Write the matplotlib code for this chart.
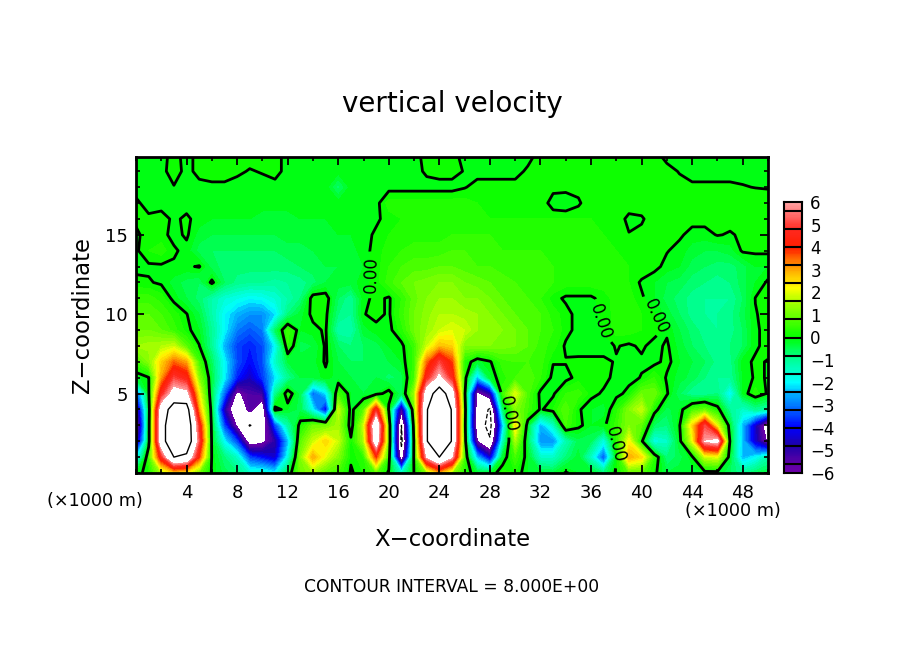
import numpy as np
import matplotlib
matplotlib.use("Agg")
import matplotlib.pyplot as plt
from matplotlib.colors import LinearSegmentedColormap
from matplotlib.ticker import MultipleLocator

# vertical velocity, one list per height (km), x = 0..50 km
z20 = [-.1, -.1, -.1, .1, -.1, .1, .1, .1, .1, .1,
       .1, .1, -.1, -.1, -.1, -.1, -.1, -.1, -.1, -.1,
       -.1, -.1, -.1, .1, .1, .1, -.1, -.1, -.1, -.1,
       -.1, -.1, .1, .1, .1, .1, .1, .1, .1, .1,
       .1, .1, -.1, -.1, -.1, -.1, -.1, -.1, -.1, -.1, -.1]
z19 = [-.1, -.1, -.1, .15, -.1, .1, .2, .2, .05, -.02,
       .02, .1, -.1, -.1, -.1, -.1, -.1, -.1, -.1, -.1,
       -.1, -.1, -.1, .05, .1, .1, -.02, -.1, -.1, -.1,
       -.1, .05, .1, .1, .1, .1, .1, .1, .1, .1,
       .1, .1, .1, -.02, -.1, -.1, -.1, -.1, -.1, -.05, -.1]
z18 = [-.1, -.1, -.1, -.02, -.1, -.1, -.1, -.1, -.1, -.1,
       -.1, -.1, -.1, -.1, -.1, -.1, -.7, -.1, -.1, -.1,
       -.1, -.1, -.1, -.1, -.1, -.1, -.02, .1, .1, .1,
       .1, .1, .1, .1, .1, .1, .1, .1, .1, .1,
       .1, .1, .1, .1, .05, .05, .05, .05, .02, -.01, -.03]
z17 = [.05, -.1, -.1, -.03, -.1, -.1, -.1, -.1, -.1, -.1,
       -.1, -.1, -.1, -.1, -.1, -.1, -.1, -.1, -.1, -.1,
       .3, .3, .3, .3, .3, .3, .3, .2, .2, .2,
       .2, .2, .2, -.15, -.2, -.05, .2, .2, .2, .2,
       .2, .2, .2, .2, .2, .2, .2, .2, .2, .2, .2]
z16 = [.05, .05, .1, -.05, .05, -.1, -.2, -.2, -.2, -.2,
       -.3, -.3, -.3, -.2, -.2, -.2, -.1, -.1, -.1, -.05,
       .1, .2, .2, .2, .3, .3, .3, .3, .2, .2,
       .2, .2, .2, .2, .2, .2, .2, .2, .2, -.1,
       -.05, .2, .2, .2, .1, .1, .1, .1, .1, .1, .1]
z15 = [-.05, .1, .1, -.1, .05, -.3, -.4, -.4, -.4, -.4,
       -.4, -.4, -.3, -.3, -.3, -.2, -.2, -.2, -.1, .05,
       .2, .3, .3, .3, .3, .4, .4, .4, .4, .3,
       .3, .3, .3, .3, .3, .3, .3, .2, .2, .02,
       .1, .1, .1, .05, -.1, -.1, .02, -.03, .05, .1, .1]
z14 = [-.05, .2, .3, .05, -.1, -.5, -.6, -.6, -.6, -.6,
       -.6, -.6, -.5, -.5, -.4, -.3, -.3, -.3, -.1, .1,
       .3, .4, .5, .5, .5, .6, .6, .5, .5, .4,
       .4, .4, .4, .3, .3, .3, .3, .3, .2, .2,
       .2, .1, .02, -.1, -.3, -.4, -.4, -.3, .05, .05, .05]
z13 = [-.05, -.05, -.05, -.05, -.05, .03, -.5, -.7, -.7, -.7,
       -.7, -.7, -.7, -.6, -.5, -.4, -.4, -.4, -.2, .1,
       .4, .6, .7, .7, .8, .8, .7, .6, .6, .5,
       .5, .5, .5, .4, .4, .4, .3, .3, .3, .2,
       .2, .1, -.1, -.2, -.5, -.6, -.7, -.7, -.5, -.2, -.2]
z12 = [.05, .03, -.05, -.3, -.5, -.6, .1, -.6, -.9, -1,
       -1, -1.1, -1, -.9, -.7, -.4, -.3, -.3, -.1, .1,
       .5, .8, 1, 1.1, 1.2, 1.2, 1, .9, .8, .7,
       .6, .6, .5, .4, .3, .3, .3, .3, .3, .2,
       -.05, -.2, -.4, -.5, -.7, -.8, -.9, -.8, -.5, -.2, .05]
z11 = [.5, .5, .3, -.1, -.4, -.7, -1.2, -1.6, -1.8, -2,
       -1.9, -1.6, -1.2, -.8, .2, .2, -.6, -1, -.1, .1,
       -.05, .4, .9, 1.2, 1.4, 1.4, 1.2, 1.2, 1, .8,
       .7, .6, .4, .1, -.05, -.05, -.05, .1, .3, .3,
       .05, -.2, -.5, -.7, -.9, -1, -1, -1, -.6, .01, .1]
z10 = [.8, .8, .6, .3, .02, -.4, -1.2, -2, -2.5, -2.8,
       -2.8, -2.2, -.8, -.3, .1, .1, -.8, -1, -.02, .1,
       -.05, .5, 1, 1.3, 1.6, 1.6, 1.5, 1.4, 1.2, 1,
       .8, .7, .6, .3, .1, -.1, -.1, .05, .3, .3,
       .2, .02, -.3, -.6, -.9, -1, -1, -.9, -.5, -.02, .1]
z09 = [1, 1, .8, .5, .1, -.2, -1, -2, -3, -3.3,
       -3, -.6, .5, -.2, -.1, .05, -1.2, -1.2, -.3, -.1,
       -.1, .3, 1, 1.4, 1.8, 2, 1.8, 1.4, 1.3, 1.2,
       1, .8, .6, .4, .1, -.1, -.1, .02, .3, .3,
       .2, .1, -.05, -.4, -.7, -.9, -1, -.9, -.6, -.05, .1]
z08 = [1.4, 1.5, 1.6, 1.8, .8, .02, -1, -2.5, -3.5, -3.8,
       -3.4, -2, .4, -.5, -.4, .05, -.6, -.8, -.6, -.5,
       -.2, -.1, .5, 1.8, 2.8, 2.6, 1.2, 1.2, 1.2, 1.1,
       1, .8, .5, .3, -.05, -.1, -.1, -.1, .02, -.05,
       .05, -.1, .05, -.3, -.6, -.8, -.9, -.8, -.6, -.05, .1]
z07 = [.6, 1.2, 2.6, 3.5, 3, .6, -.6, -2, -3.4, -4,
       -3.4, -1.5, -.4, -.3, -.3, .05, -.4, -.6, -.6, -.5,
       -.4, -.2, .5, 3.4, 5, 3.8, .3, -.3, -.05, .5,
       .6, .6, .5, .02, .02, .05, .05, .05, -.02, -.02,
       -.05, -.1, .1, -.2, -.4, -.6, -.9, -.9, -.1, .05, -.02]
z06 = [-.3, -.03, 3, 5, 4.4, 1.2, -.4, -2, -3.8, -4.6,
       -3.6, -2.2, -1, -.4, -.4, -.1, -.3, -.4, -.4, -.4,
       -.7, -.5, .6, 4.5, 6.3, 4.5, .3, -2.5, -.3, .3,
       .6, .8, .4, -.1, -.1, .1, .1, .1, -.1, -.1,
       .02, .4, -.05, -.3, -.5, -.8, -1, -1, -.2, .05, -.02]
z05 = [-3.5, -.1, 4.5, 6.6, 6.3, 2.2, -.5, -3.2, -6.3, -5.4,
       -5.2, -1, .3, -.5, -3.2, -2.2, .6, -.2, -.4, -.2,
       .2, -.6, 1.4, 6.8, 9.2, 6.8, .2, -6.4, -5, .5,
       2, .7, -.1, -.05, .4, .5, .1, -.05, -.1, .1,
       1, 1, .05, -.6, -1, -1, -.8, -2, -.2, .3, -.05]
z04 = [-5.6, -.4, 6.8, 9, 9, 3, -.3, -4.8, -7.5, -5.6,
       -7, .2, -.2, -.5, -2, -4.2, 1.8, -.2, .8, 4.5,
       -.1, -5.5, 1, 7.8, 11, 7.8, .5, -6.8, -8.2, -.8,
       1.2, .6, -.05, .2, .8, .05, -.2, -.3, .3, 1.2,
       1.8, .2, -.5, -.2, .6, .9, .2, -1, -1.5, -1, -1.2]
z03 = [-6.8, -.3, 7, 10, 9.8, 4.5, -.2, -3.5, -6.2, -8.1,
       -7, -3.5, -1.2, .2, 1, 1, 1.5, -.3, 1.8, 7.5,
       .8, -8, .5, 7.8, 11.5, 7.8, .4, -7, -8.6, -2.5,
       2.5, -.3, -2.5, -1.5, .6, .1, -.2, -.1, .5, 1.2,
       .8, -.6, -.8, -.05, 2.5, 5, 2, -.3, -2.5, -4.5, -7]
z02 = [-5.5, -.3, 7, 10, 9.8, 5, -.1, -2, -3.5, -6.8,
       -6.3, -5, -2.5, .8, 1.8, 2.6, 1.8, .1, 1.5, 7,
       .9, -8.5, .2, 7.8, 11.5, 7.8, .5, -6, -7.8, -1.5,
       1.5, -.5, -2.8, -2.8, -1.3, -.5, -.6, -1.8, .3, 2.2,
       .1, -1.8, -1.5, -.2, 2, 6, 6.5, -.1, -2.5, -4.5, -6.2]
z01 = [-2.2, .5, 4.5, 8, 7.5, 3.8, -.05, -.8, -1.5, -3.5,
       -4, -4.5, -1.8, 1.2, 3, 2, 1.2, .05, .4, 3.8,
       .4, -7, .2, 6, 8, 6, .6, -2.5, -4.5, -.3,
       .6, -.2, -1.5, -1.5, -.8, -.3, -1.5, -3.4, -.05, 3,
       2.5, .4, -.8, -.5, -.1, 1.8, 2, -.3, -2.5, -2, -1.2]
z00 = [-.2, .2, 1.5, 2.4, 2.2, 1, -.05, -.5, -.8, -1.5,
       -1.5, -2, -.4, 1, 1.4, .8, .6, -.05, .2, .8,
       -.1, -1.5, .02, 1.2, 2.8, 1.4, .3, -.3, -.3, .3,
       .2, -.2, -.3, -.4, .05, -.2, -.2, -.8, .1, .8,
       .8, .1, -.4, -.3, -.3, -.2, -.2, -.6, -1, -.6, -.4]

x_km = np.arange(51)
z_km = np.arange(21)
w = np.array([z00, z01, z02, z03, z04, z05, z06, z07, z08, z09, z10,
              z11, z12, z13, z14, z15, z16, z17, z18, z19, z20])

x_ticks = [4, 8, 12, 16, 20, 24, 28, 32, 36, 40, 44, 48]
z_ticks = [5, 10, 15]
cbar_ticks = [-6, -5, -4, -3, -2, -1, 0, 1, 2, 3, 4, 5, 6]

# colour ramp taken from the colour bar
anchors = [(-6, (110, 0, 170)), (-5.6, (90, 0, 165)), (-4.8, (30, 0, 170)),
           (-4, (0, 0, 255)), (-3.2, (0, 100, 255)), (-2.4, (0, 190, 255)),
           (-2, (0, 255, 255)), (-0.8, (0, 255, 130)), (0, (0, 255, 0)),
           (0.8, (85, 255, 0)), (1.6, (170, 255, 0)), (2.2, (255, 255, 0)),
           (3.2, (255, 150, 0)), (4, (255, 30, 0)), (4.8, (255, 40, 30)),
           (5.6, (255, 120, 120)), (6, (255, 165, 165))]
cmap = LinearSegmentedColormap.from_list(
    "wind", [((v + 6) / 12, tuple(c / 255 for c in rgb)) for v, rgb in anchors], N=256)
cmap.set_under("white")
cmap.set_over("white")

W, H = 904, 654
fig = plt.figure(figsize=(W / 100, H / 100), dpi=100)
ax = fig.add_axes([136 / W, 1 - 473 / H, 632 / W, 316 / H])

levels = np.arange(-6, 6.01, 0.2)
ax.contourf(x_km, z_km, w, levels=levels, cmap=cmap, extend="both")
zero = ax.contour(x_km, z_km, w, levels=[0], colors="k", linewidths=2)
ax.contour(x_km, z_km, w, levels=[8], colors="k", linewidths=1)
ax.contour(x_km, z_km, w, levels=[-8], colors="k", linewidths=0.9, linestyles="dashed")
ax.clabel(zero, fmt="%.2f", fontsize=12, inline=True,
          manual=[(18.4, 12.5), (36.7, 9.5), (41.5, 10), (29.3, 3.7), (38.2, 1.8)])

ax.set_xlim(0, 50)
ax.set_ylim(0, 19.9)
ax.set_xticks(x_ticks)
ax.set_yticks(z_ticks)
ax.xaxis.set_minor_locator(MultipleLocator(2))
ax.yaxis.set_minor_locator(MultipleLocator(1))
ax.tick_params(which="major", direction="in", length=6, width=1.3, top=True, right=True,
               labelsize=13)
ax.tick_params(axis="x", which="major", pad=8)
ax.tick_params(axis="y", which="major", pad=6)
ax.tick_params(which="minor", direction="in", length=3, width=1.2, top=True, right=True)
for s in ax.spines.values():
    s.set_linewidth(2)

fig.text(452 / W, 1 - 104 / H, "vertical velocity", ha="center", va="center", fontsize=20)
fig.text(452 / W, 1 - 540 / H, "X\u2212coordinate", ha="center", va="center", fontsize=16.4)
fig.text(83 / W, 1 - 315 / H, "Z\u2212coordinate", ha="center", va="center",
         rotation=90, fontsize=16.4)
fig.text(95 / W, 1 - 501 / H, "(\u00d71000 m)", ha="center", va="center", fontsize=12.7)
fig.text(733 / W, 1 - 511 / H, "(\u00d71000 m)", ha="center", va="center", fontsize=12.7)
fig.text(452 / W, 1 - 587 / H, "CONTOUR INTERVAL = 8.000E+00", ha="center", va="center",
         fontsize=12.3)

# colour bar, boxes are 0.8 wide with a half box at each end
cax = fig.add_axes([784 / W, 1 - 473 / H, 18 / W, 271 / H])
bar = np.linspace(-6, 6, 241)
cax.pcolormesh([0, 1], np.linspace(-6, 6, 242), bar[:, None], cmap=cmap, vmin=-6, vmax=6)
for edge in np.arange(-5.6, 5.61, 0.8):
    cax.axhline(edge, color="k", lw=1.5)
cax.set_xlim(0, 1)
cax.set_ylim(-6, 6)
cax.set_xticks([])
cax.yaxis.tick_right()
cax.set_yticks(cbar_ticks)
cax.set_yticklabels([str(t).replace("-", "\u2212") for t in cbar_ticks])
cax.tick_params(axis="y", length=0, labelsize=12, pad=6)
for s in cax.spines.values():
    s.set_linewidth(1.5)

fig.savefig("out.png", dpi=100)
